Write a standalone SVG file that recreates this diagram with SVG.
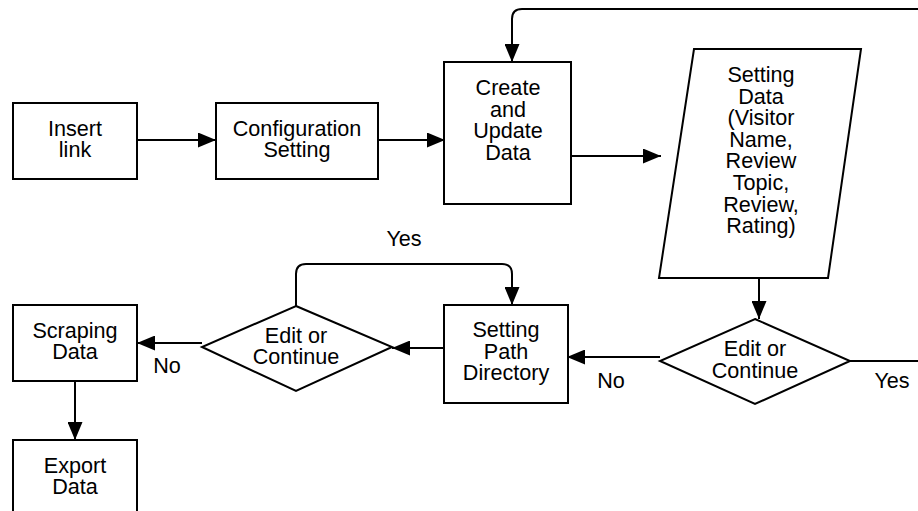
<svg xmlns="http://www.w3.org/2000/svg" width="918" height="511" viewBox="0 0 918 511">
<style>
.n{fill:#fff;stroke:#000;stroke-width:2}
.t{font-family:"Liberation Sans",Arial,sans-serif;font-size:21.6px;fill:#000;text-anchor:middle}
.c{fill:none;stroke:#000;stroke-width:2}
</style>
<defs>
<marker id="a" viewBox="0 0 18 15" refX="18" refY="7.5" markerWidth="18" markerHeight="15" markerUnits="userSpaceOnUse" orient="auto">
<path d="M0 0L18 7.5L0 15Z" fill="#000"/>
</marker>
</defs>
<rect width="918" height="511" fill="#fff"/>
<g id="connectors">
<path class="c" d="M137 140H216" marker-end="url(#a)"/>
<path class="c" d="M378 140H445" marker-end="url(#a)"/>
<path class="c" d="M918 9H522Q512 9 512 19V62" marker-end="url(#a)"/>
<path class="c" d="M571 156H661" marker-end="url(#a)"/>
<path class="c" d="M759 278V319" marker-end="url(#a)"/>
<path class="c" d="M850 361H918"/>
<path class="c" d="M660 357H567" marker-end="url(#a)"/>
<path class="c" d="M444 348H392" marker-end="url(#a)"/>
<path class="c" d="M296 306V274Q296 264 306 264H502Q512 264 512 274V305" marker-end="url(#a)"/>
<path class="c" d="M202 343H137" marker-end="url(#a)"/>
<path class="c" d="M75 381V440" marker-end="url(#a)"/>
<text class="t" x="404" y="246">Yes</text>
<text class="t" x="892" y="388">Yes</text>
<text class="t" x="611" y="388">No</text>
<text class="t" x="167" y="373">No</text>
</g>
<g id="insert">
<rect class="n" x="13" y="103" width="124" height="76"/>
<text class="t" x="75" y="136">Insert</text>
<text class="t" x="75" y="157">link</text>
</g>
<g id="config">
<rect class="n" x="216" y="103" width="162" height="76"/>
<text class="t" x="297" y="136">Configuration</text>
<text class="t" x="297" y="157">Setting</text>
</g>
<g id="create">
<rect class="n" x="444" y="62" width="127" height="142"/>
<text class="t" x="508" y="95">Create</text>
<text class="t" x="508" y="116.6">and</text>
<text class="t" x="508" y="138.2">Update</text>
<text class="t" x="508" y="159.8">Data</text>
</g>
<g id="settingdata">
<polygon class="n" points="694,49 861,49 828,278 659,278"/>
<text class="t" x="761" y="82">Setting</text>
<text class="t" x="761" y="103.6">Data</text>
<text class="t" x="761" y="125.2">(Visitor</text>
<text class="t" x="761" y="146.8">Name,</text>
<text class="t" x="761" y="168.4">Review</text>
<text class="t" x="761" y="190">Topic,</text>
<text class="t" x="761" y="211.6">Review,</text>
<text class="t" x="761" y="233.2">Rating)</text>
</g>
<g id="decision2">
<polygon class="n" points="755,319 850,361 755,404 660,361"/>
<text class="t" x="755" y="356">Edit or</text>
<text class="t" x="755" y="378">Continue</text>
</g>
<g id="path">
<rect class="n" x="444" y="305" width="124" height="98"/>
<text class="t" x="506" y="337">Setting</text>
<text class="t" x="506" y="358.6">Path</text>
<text class="t" x="506" y="380.2">Directory</text>
</g>
<g id="decision1">
<polygon class="n" points="296,306 392,347 296,391 202,347"/>
<text class="t" x="296" y="343">Edit or</text>
<text class="t" x="296" y="364">Continue</text>
</g>
<g id="scraping">
<rect class="n" x="13" y="305" width="124" height="76"/>
<text class="t" x="75" y="338">Scraping</text>
<text class="t" x="75" y="359">Data</text>
</g>
<g id="export">
<rect class="n" x="13" y="440" width="124" height="80"/>
<text class="t" x="75" y="473">Export</text>
<text class="t" x="75" y="494">Data</text>
</g>
</svg>
